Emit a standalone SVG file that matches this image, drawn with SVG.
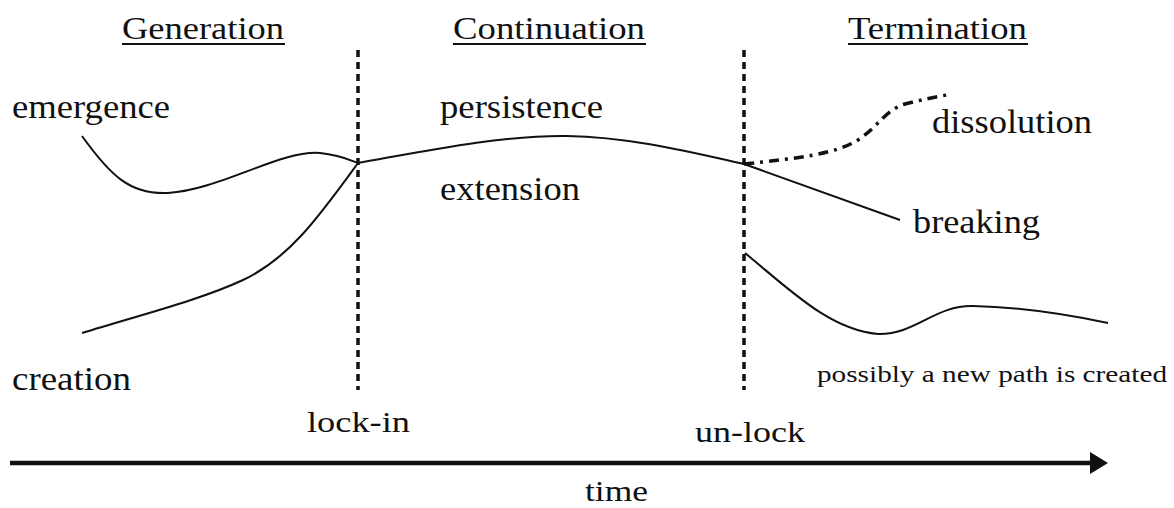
<svg xmlns="http://www.w3.org/2000/svg" width="1174" height="508" viewBox="0 0 1174 508">
<style>
text{font-family:"Liberation Serif","Times New Roman",serif;fill:#111}
.h{font-size:31px}
.l{font-size:34px}
.s{font-size:24px}
.c{font-size:30px}
.u{stroke:#111;stroke-width:2}
.curve{fill:none;stroke:#111;stroke-width:2}
.dash{fill:none;stroke:#111;stroke-width:3.5;stroke-dasharray:7 5}
.dd{fill:none;stroke:#111;stroke-width:3.5;stroke-dasharray:10 6 3 6}
</style>
<rect width="1174" height="508" fill="#fff"/>
<g id="headers">
<text class="h" x="122" y="39" textLength="162" lengthAdjust="spacingAndGlyphs">Generation</text>
<line class="u" x1="122" y1="44" x2="285" y2="44"/>
<text class="h" x="453" y="39" textLength="192" lengthAdjust="spacingAndGlyphs">Continuation</text>
<line class="u" x1="453" y1="44" x2="646" y2="44"/>
<text class="h" x="848" y="39" textLength="179" lengthAdjust="spacingAndGlyphs">Termination</text>
<line class="u" x1="848" y1="44" x2="1028" y2="44"/>
</g>
<g id="connectors">
<line class="dash" x1="358" y1="50" x2="358" y2="390"/>
<line class="dash" x1="744" y1="50" x2="744" y2="390"/>
<path id="emergence-path" class="curve" d="M82,136 C110,175 130,195 168,193 C220,190 280,150 320,153 C340,155 350,160 358,163"/>
<path id="creation-path" class="curve" d="M82,333 C140,315 200,300 243,280 C290,258 320,215 358,163"/>
<path id="persistence-path" class="curve" d="M358,163 C420,152 500,135 567,136 C630,137 690,152 744,164"/>
<path id="breaking-path" class="curve" d="M744,164 L900,220"/>
<path id="dissolution-path" class="dd" d="M744,164 C800,158 835,154 858,140 C878,127 885,110 905,104 C920,100 935,97 947,95"/>
<path id="newpath" class="curve" d="M745,253 C790,290 830,330 878,334 C915,335 935,305 973,306 C1020,307 1070,315 1108,323"/>
<line x1="10" y1="463" x2="1094" y2="463" stroke="#111" stroke-width="4.5"/>
<path d="M1090,452 L1108,463 L1090,474 Z" fill="#111"/>
</g>
<g id="labels">
<text class="l" x="12" y="118" textLength="158" lengthAdjust="spacingAndGlyphs">emergence</text>
<text class="l" x="440" y="118" textLength="163" lengthAdjust="spacingAndGlyphs">persistence</text>
<text class="l" x="440" y="200" textLength="140" lengthAdjust="spacingAndGlyphs">extension</text>
<text class="l" x="932" y="133" textLength="160" lengthAdjust="spacingAndGlyphs">dissolution</text>
<text class="l" x="913" y="233" textLength="127" lengthAdjust="spacingAndGlyphs">breaking</text>
<text class="l" x="12" y="390" textLength="119" lengthAdjust="spacingAndGlyphs">creation</text>
<text class="s" x="817" y="382" textLength="350" lengthAdjust="spacingAndGlyphs">possibly a new path is created</text>
<text class="c" x="307" y="432" textLength="103" lengthAdjust="spacingAndGlyphs">lock-in</text>
<text class="c" x="695" y="442" textLength="110" lengthAdjust="spacingAndGlyphs">un-lock</text>
<text class="c" x="585" y="501" textLength="63" lengthAdjust="spacingAndGlyphs">time</text>
</g>
</svg>
